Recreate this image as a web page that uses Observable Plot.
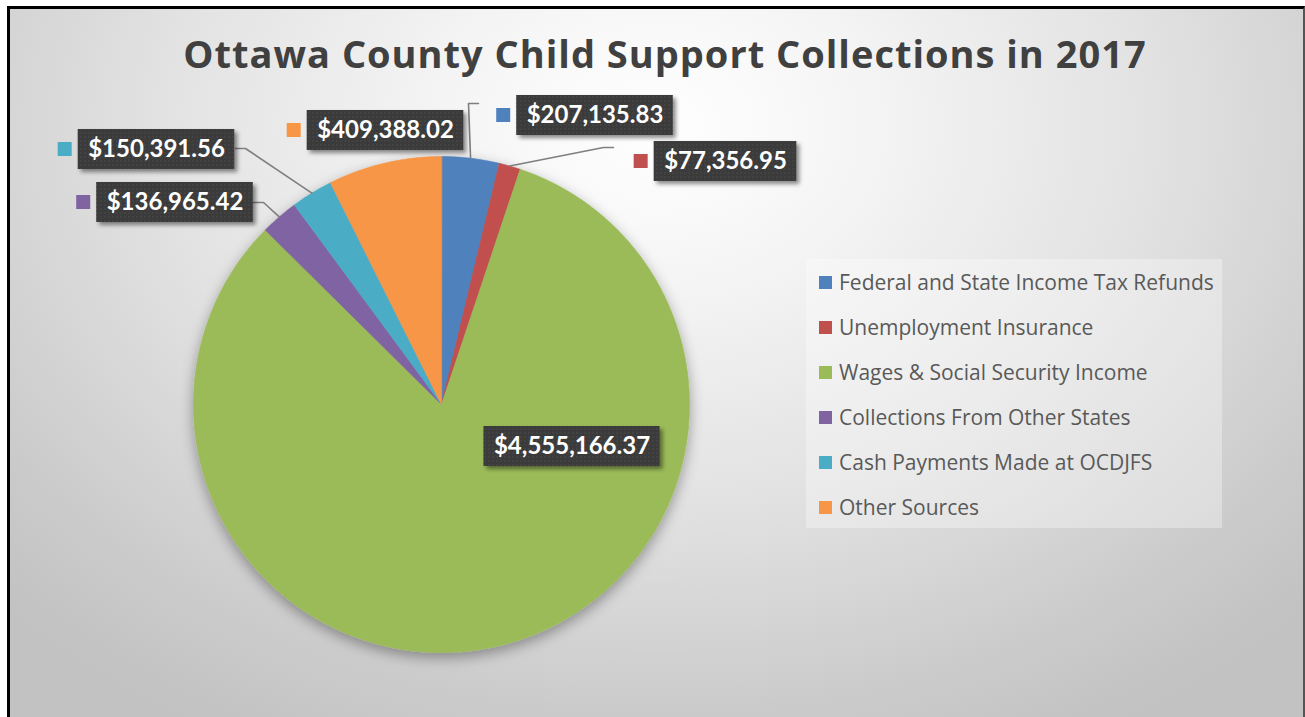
<!DOCTYPE html>
<html>
<head>
<meta charset="utf-8">
<script src="https://cdn.jsdelivr.net/npm/d3@7"></script>
<script src="https://cdn.jsdelivr.net/npm/@observablehq/plot@0.6"></script>
<style>
  html, body { margin: 0; padding: 0; background: #fff; }
  #page { position: relative; width: 1305px; height: 717px; overflow: hidden; }
  #frame {
    position: absolute; left: 7px; top: 6px; width: 1298px; height: 730px;
    box-sizing: border-box;
    border-left: 3px solid #000; border-top: 3px solid #000; border-right: 2px solid #555;
    background: radial-gradient(ellipse 70% 95% at 50% 16%, #ffffff 0%, #f5f5f5 22%, #e2e2e2 55%, #cbcbcb 85%, #c2c2c2 100%);
  }
  #title {
    position: absolute; left: 0; width: 1330px; top: 33px; text-align: center;
    font-family: "Open Sans", sans-serif; font-weight: bold; font-size: 38px; letter-spacing: 1px; line-height: 40px; color: #404040;
  }
  #chart { position: absolute; left: 0; top: 0; }
  #legend {
    position: absolute; left: 806px; top: 259px; width: 416px; height: 269px;
    background: rgba(255,255,255,0.32);
    font-family: "Open Sans", sans-serif; font-size: 21px; color: #595959;
  }
  .item { position: absolute; left: 13px; height: 24px; display: flex; align-items: center; white-space: nowrap; }
  .sw { width: 13px; height: 13px; margin-right: 7px; flex: none; }
</style>
</head>
<body>
<div id="page">
  <div id="frame"></div>
  <div id="title"></div>
  <div id="chart"></div>
  <div id="legend"></div>
</div>
<script>
// ---- data ----
const categories = [
  "Federal and State Income Tax Refunds",
  "Unemployment Insurance",
  "Wages & Social Security Income",
  "Collections From Other States",
  "Cash Payments Made at OCDJFS",
  "Other Sources"
];
const values = [207135.83, 77356.95, 4555166.37, 136965.42, 150391.56, 409388.02];
const colors = ["#4F81BD", "#C0504D", "#9BBB59", "#8064A2", "#4BACC6", "#F79646"];
const titleText = "Ottawa County Child Support Collections in 2017";

// ---- layout (pixels) ----
const PIE = {cx: 441, cy: 404, r: 248};
const labelCenters = [[594.5, 115], [725, 161], [571.5, 446], [174.5, 202], [156, 149], [385, 130]];
const showMarker = [true, true, false, true, true, true];
const leaderElbows = [
  [[478, 103], [468, 103]],
  [[613, 147], [603, 147]],
  null,
  [[253, 202], [263, 202]],
  [[235, 148], [245, 148]],
  null
];
const LABEL_FONT = "bold 24px Lato";
const PAD = 10;

// ---- geometry from data ----
const fmt = d3.format("$,.2f");
const arcs = d3.pie().sort(null).value(d => d)(values);
const ax = a => PIE.cx + PIE.r * Math.sin(a);
const ay = a => PIE.cy - PIE.r * Math.cos(a);

// each slice as a polygon (centre + arc), drawn with Plot.geo through the x/y scales
const slices = arcs.map((arc, i) => {
  const n = Math.max(2, Math.ceil((arc.endAngle - arc.startAngle) / (Math.PI / 360)));
  const ring = [[PIE.cx, PIE.cy]];
  for (let k = 0; k <= n; k++) {
    const a = arc.startAngle + (arc.endAngle - arc.startAngle) * k / n;
    ring.push([ax(a), ay(a)]);
  }
  ring.push([PIE.cx, PIE.cy]);
  return {type: "Feature", properties: {name: categories[i]}, geometry: {type: "Polygon", coordinates: [ring]}};
});

const ctx = document.createElement("canvas").getContext("2d");
ctx.font = LABEL_FONT;
const labels = arcs.map((arc, i) => {
  const text = fmt(values[i]);
  const w = ctx.measureText(text).width + 2 * PAD;
  const [cx, cy] = labelCenters[i];
  return {name: categories[i], text, cx, cy, x1: cx - w / 2, x2: cx + w / 2, y1: cy - 20, y2: cy + 20,
          mx1: cx - w / 2 - 20, mx2: cx - w / 2 - 6, my1: cy - 7, my2: cy + 7, marker: showMarker[i]};
});

const leaderPts = [];
arcs.forEach((arc, i) => {
  if (!leaderElbows[i]) return;
  const mid = (arc.startAngle + arc.endAngle) / 2;
  leaderElbows[i].forEach(([x, y]) => leaderPts.push({name: categories[i], x, y}));
  leaderPts.push({name: categories[i], x: ax(mid), y: ay(mid)});
});

// ---- plot ----
const chart = Plot.plot({
  width: 1305, height: 717, margin: 0,
  x: {domain: [0, 1305], range: [0, 1305], axis: null},
  y: {domain: [0, 717], range: [0, 717], axis: null},
  color: {domain: categories, range: colors},
  style: {background: "transparent", overflow: "visible"},
  marks: [
    Plot.geo(slices, {fill: d => d.properties.name, stroke: d => d.properties.name, strokeWidth: 0.6}),
    Plot.line(leaderPts, {x: "x", y: "y", z: "name", stroke: "#7f7f7f", strokeWidth: 1.6}),
    Plot.rect(labels, {x1: "x1", x2: "x2", y1: "y1", y2: "y2", fill: "url(#dots)"}),
    Plot.rect(labels.filter(d => d.marker), {x1: "mx1", x2: "mx2", y1: "my1", y2: "my2", fill: "name"}),
    Plot.text(labels, {x: "cx", y: "cy", text: "text", fill: "white", fontSize: 24, fontWeight: "bold", fontFamily: "Lato"})
  ]
});

const svg = d3.select(chart);
svg.insert("defs", ":first-child").html(`
  <pattern id="dots" width="4" height="4" patternUnits="userSpaceOnUse">
    <rect width="4" height="4" fill="#3a3a3a"/>
    <circle cx="1" cy="1" r="0.7" fill="#505050"/>
  </pattern>
  <filter id="pieShadow" x="-20%" y="-20%" width="140%" height="145%">
    <feDropShadow dx="0" dy="5" stdDeviation="7" flood-color="#000" flood-opacity="0.35"/>
  </filter>
  <filter id="boxShadow" x="-10%" y="-20%" width="125%" height="160%">
    <feDropShadow dx="3" dy="3" stdDeviation="2" flood-color="#000" flood-opacity="0.45"/>
  </filter>`);
svg.select('g[aria-label="geo"]').attr("filter", "url(#pieShadow)");
svg.select('g[aria-label="rect"]').attr("filter", "url(#boxShadow)");
document.getElementById("chart").appendChild(chart);

document.getElementById("title").textContent = titleText;

const legend = document.getElementById("legend");
categories.forEach((c, i) => {
  const it = document.createElement("div");
  it.className = "item";
  it.style.top = (11 + i * 45) + "px";
  const sw = document.createElement("div");
  sw.className = "sw";
  sw.style.background = colors[i];
  const t = document.createElement("span");
  t.textContent = c;
  it.appendChild(sw); it.appendChild(t);
  legend.appendChild(it);
});
</script>
</body>
</html>
